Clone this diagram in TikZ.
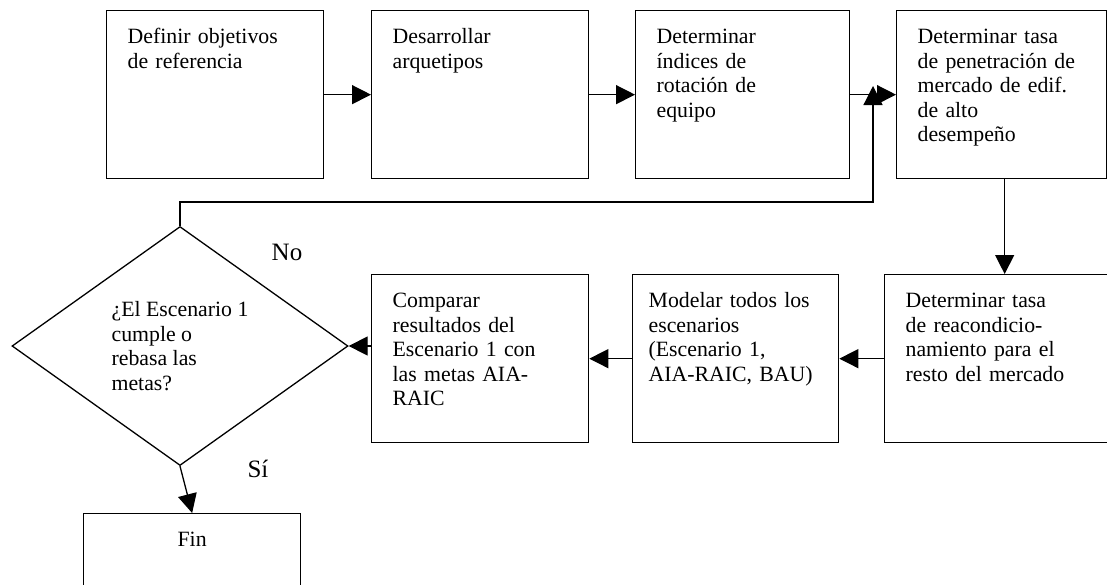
\documentclass[tikz,border=0pt]{standalone}
\usepackage{fontspec}
\setmainfont{Liberation Serif}
\usetikzlibrary{shapes.geometric,arrows.meta}

\begin{document}
\begin{tikzpicture}[x=1pt, y=-1pt,
  line width=1.3pt,
  >={Triangle[length=19pt,width=19pt]},
  stepbox/.style={draw, rectangle, anchor=north west, align=left,
                  text width=#1, inner xsep=21pt, inner ysep=0pt,
                  text height=33pt, text depth=135pt,
                  font=\fontsize{21.8}{24.5}\selectfont},
  decision/.style={draw, diamond, inner sep=0pt, align=left,
                   minimum width=336pt, minimum height=239pt,
                   font=\fontsize{21.8}{24.5}\selectfont},
  answer/.style={font=\fontsize{25}{28}\selectfont}]

  % ---- page size, picture is cut at the right and bottom ---------
  \useasboundingbox (0,0) rectangle (1107,584);
  \clip (0,0) rectangle (1107,584);

  % ---- top row ----------------------------------------------------
  \node[stepbox=175pt] (def) at (106,10)
    {Definir objetivos\\de referencia};
  \node[stepbox=175pt] (arq) at (371,10)
    {Desarrollar\\arquetipos};
  \node[stepbox=172pt] (ind) at (635,10)
    {Determinar\\índices de\\rotación de\\equipo};
  \node[stepbox=168pt] (pen) at (896,10)
    {Determinar tasa\\de penetración de\\mercado de edif.\\de alto\\desempeño};

  % ---- second row -------------------------------------------------
  \node[stepbox=198pt] (reac) at (884,274)
    {Determinar tasa\\de reacondicio-\\namiento para el\\resto del mercado};
  \node[stepbox=174pt, inner xsep=16pt] (mod) at (632,274)
    {Modelar todos los\\escenarios\\(Escenario 1,\\AIA-RAIC, BAU)};
  \node[stepbox=175pt] (comp) at (371,274)
    {Comparar\\resultados del\\Escenario 1 con\\las metas AIA-\\RAIC};

  % ---- decision and end -------------------------------------------
  \node[decision] (dec) at (180,346)
    {¿El Escenario 1\\cumple o\\rebasa las\\metas?};
  \node[stepbox=175pt, align=center] (fin) at (83,513) {Fin};

  \coordinate (ret) at (873,86);

  % ---- connectors -------------------------------------------------
  \draw[->] (def) -- (arq);
  \draw[->] (arq) -- (ind);
  \draw[->] (ind) -- (pen);
  \draw[->] (reac.north |- pen.south) -- (reac.north);
  \draw[->] (reac) -- (mod);
  \draw[->] (mod) -- (comp);
  \draw[->] (comp.west |- dec.east) -- (dec.east);
  \draw[->] (dec.south) -- (fin.north);
  \draw[->] (dec.north) -- ++(0,-24) -| (ret);

  % ---- answers ----------------------------------------------------
  \node[answer] (lblno) at (287,252) {No};
  \node[answer] (lblsi) at (258,469) {Sí};

\end{tikzpicture}
\end{document}
